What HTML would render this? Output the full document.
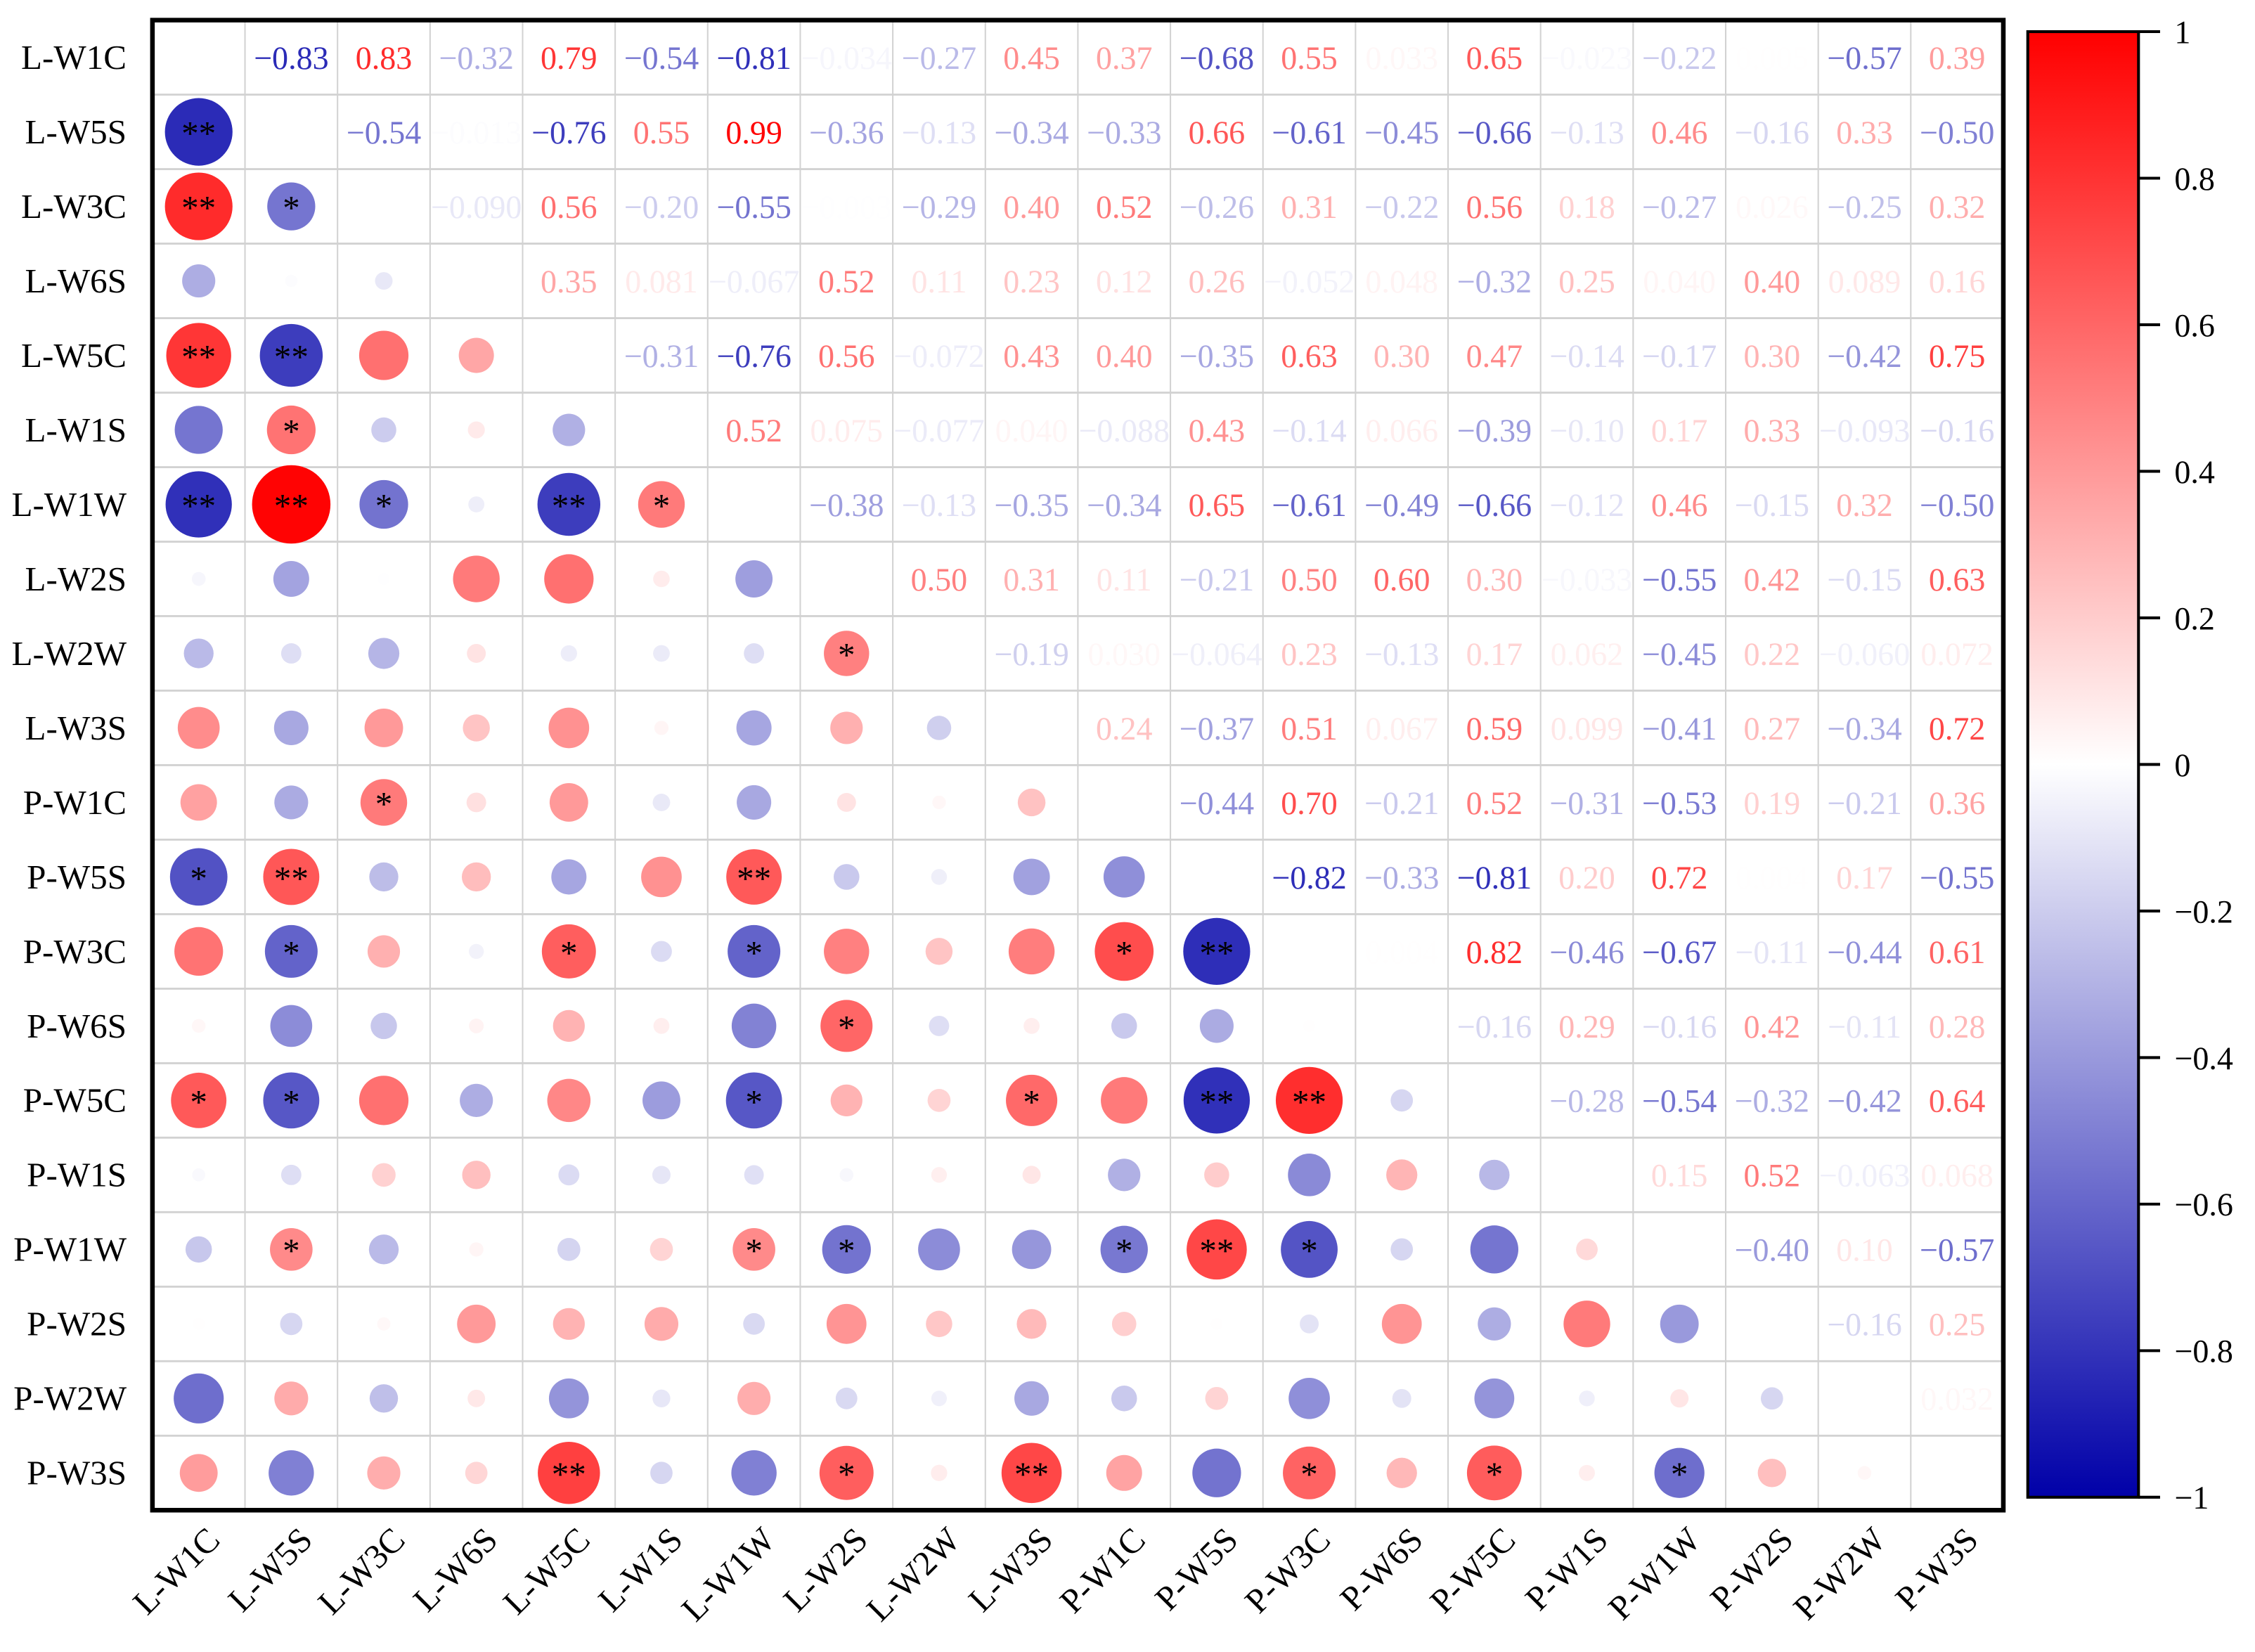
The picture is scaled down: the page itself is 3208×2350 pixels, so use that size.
<!DOCTYPE html>
<html><head><meta charset="utf-8"><style>
html,body{margin:0;padding:0;background:#fff;}
svg{display:block;}
text{font-family:"Liberation Serif",serif;}
</style></head><body>
<svg id="chart" width="3208" height="2350" viewBox="0 0 1568 1148.6" preserveAspectRatio="none" xmlns="http://www.w3.org/2000/svg">
<defs>
<linearGradient id="cbg" x1="0" y1="0" x2="0" y2="1">
<stop offset="0" stop-color="#ff0000"/>
<stop offset="0.5" stop-color="#ffffff"/>
<stop offset="1" stop-color="#0000a8"/>
</linearGradient>
</defs>
<g id="grid"></g>
<g id="marks"></g>
<g id="labels"></g>
<rect x="106" y="14" width="1287" height="1036" fill="none" stroke="#000" stroke-width="3.2"/>
<g id="cbar">
<rect x="1410" y="22" width="77" height="1019" fill="url(#cbg)" stroke="#000" stroke-width="2"/>
</g>
</svg>
<script>
const labels = ["L-W1C","L-W5S","L-W3C","L-W6S","L-W5C","L-W1S","L-W1W","L-W2S","L-W2W","L-W3S","P-W1C","P-W5S","P-W3C","P-W6S","P-W5C","P-W1S","P-W1W","P-W2S","P-W2W","P-W3S"];
// upper triangle rows: row i holds values for columns i+1..19
const upper = [
 [-0.83,0.83,-0.32,0.79,-0.54,-0.81,-0.034,-0.27,0.45,0.37,-0.68,0.55,0.033,0.65,-0.023,-0.22,0.005,-0.57,0.39],
 [-0.54,-0.013,-0.76,0.55,0.99,-0.36,-0.13,-0.34,-0.33,0.66,-0.61,-0.45,-0.66,-0.13,0.46,-0.16,0.33,-0.50],
 [-0.090,0.56,-0.20,-0.55,-0.003,-0.29,0.40,0.52,-0.26,0.31,-0.22,0.56,0.18,-0.27,0.026,-0.25,0.32],
 [0.35,0.081,-0.067,0.52,0.11,0.23,0.12,0.26,-0.052,0.048,-0.32,0.25,0.040,0.40,0.089,0.16],
 [-0.31,-0.76,0.56,-0.072,0.43,0.40,-0.35,0.63,0.30,0.47,-0.14,-0.17,0.30,-0.42,0.75],
 [0.52,0.075,-0.077,0.040,-0.088,0.43,-0.14,0.066,-0.39,-0.10,0.17,0.33,-0.093,-0.16],
 [-0.38,-0.13,-0.35,-0.34,0.65,-0.61,-0.49,-0.66,-0.12,0.46,-0.15,0.32,-0.50],
 [0.50,0.31,0.11,-0.21,0.50,0.60,0.30,-0.033,-0.55,0.42,-0.15,0.63],
 [-0.19,0.030,-0.064,0.23,-0.13,0.17,0.062,-0.45,0.22,-0.060,0.072],
 [0.24,-0.37,0.51,0.067,0.59,0.099,-0.41,0.27,-0.34,0.72],
 [-0.44,0.70,-0.21,0.52,-0.31,-0.53,0.19,-0.21,0.36],
 [-0.82,-0.33,-0.81,0.20,0.72,0.004,0.17,-0.55],
 [0.004,0.82,-0.46,-0.67,-0.11,-0.44,0.61],
 [-0.16,0.29,-0.16,0.42,-0.11,0.28],
 [-0.28,-0.54,-0.32,-0.42,0.64],
 [0.15,0.52,-0.063,0.068],
 [-0.40,0.10,-0.57],
 [-0.16,0.25],
 [0.032]
];
// significance marks in lower triangle: [row, col, mark]
const sigRows = [1,2,4,6,11,14, 2,4,5,6,11,12,14,16, 6,10, 6,12,19, 6, 11,12,14,16, 8,13,16,19, 14,19, 12,16, 12,14,16, 14,16,19, 19, 19];
const sigCols = [0,0,0,0,0,0, 1,1,1,1,1,1,1,1, 2,2, 4,4,4, 5, 6,6,6,6, 7,7,7,7, 9,9, 10,10, 11,11,11, 12,12,12, 14, 16];
const sigMarks = ["**","**","**","**","*","*", "*","**","*","**","**","*","*","*", "*","*", "**","*","**", "*", "**","*","*","*", "*","*","*","*", "*","**", "*","*", "**","**","**", "**","*","*", "*", "*"];
const cbTicks = [1,0.8,0.6,0.4,0.2,0,-0.2,-0.4,-0.6,-0.8,-1];

const NS="http://www.w3.org/2000/svg";
const X0=106,Y0=14,W=1287,H=1036,N=labels.length;
const cw=W/N, ch=H/N;
const xc=j=>X0+cw*(j+0.5);
const yc=i=>Y0+ch*(i+0.5);
const rad=v=>4+23.5*Math.abs(v);
function color(v){
  v=Math.max(-1,Math.min(1,v));
  if(v>=0){const g=Math.round(255*(1-v));return `rgb(255,${g},${g})`;}
  const a=-v;const rg=Math.round(255*(1-a));const b=Math.round(255-a*87);return `rgb(${rg},${rg},${b})`;
}
function fmt(v){
  const a=Math.abs(v);
  let s=a>=0.1?a.toFixed(2):a.toFixed(3);
  return (v<0?"\u2212":"")+s;
}
function mk(tag,attrs,parent){const e=document.createElementNS(NS,tag);for(const k in attrs)e.setAttribute(k,attrs[k]);parent.appendChild(e);return e;}

const M=[];for(let i=0;i<N;i++){M.push(new Array(N).fill(null));}
upper.forEach((row,i)=>row.forEach((v,k)=>{const j=i+1+k;M[i][j]=v;M[j][i]=v;}));

const grid=document.getElementById('grid');
for(let k=1;k<N;k++){
  const l=mk('line',{x1:X0+cw*k,y1:Y0,x2:X0+cw*k,y2:Y0+H,stroke:'#d2d2d2','stroke-width':1},grid);
  
  
  const h=mk('line',{x1:X0,y1:Y0+ch*k,x2:X0+W,y2:Y0+ch*k,stroke:'#d2d2d2','stroke-width':1.4},grid);
  
  
}
const marks=document.getElementById('marks');
for(let i=0;i<N;i++)for(let j=0;j<N;j++){
  const v=M[i][j]; if(v===null)continue;
  if(j>i){
    const t=mk('text',{x:xc(j),y:yc(i)+8,'text-anchor':'middle','font-size':22.5,fill:color(v)},marks);
    t.textContent=fmt(v);
    
    
  } else {
    const c=mk('circle',{cx:xc(j),cy:yc(i),r:rad(v),fill:color(v)},marks);
    
    
  }
}
sigMarks.forEach((m,k)=>{
  const t=mk('text',{x:xc(sigCols[k]),y:yc(sigRows[k])+9,'text-anchor':'middle','font-size':24,fill:'#000'},marks);
  t.textContent=m;
  
  
});
const lab=document.getElementById('labels');
labels.forEach((s,i)=>{
  const t=mk('text',{x:88,y:yc(i)+8,'text-anchor':'end','font-size':24,fill:'#000'},lab);
  t.textContent=s;
  
  
  const x=xc(i)+16,y=1072;
  const u=mk('text',{x:x,y:y,'text-anchor':'end','font-size':24,fill:'#000',transform:`rotate(-45 ${x} ${y})`},lab);
  u.textContent=s;
  
  
});
const cb=document.getElementById('cbar');
const CB0=22,CB1=1041;
const cby=v=>CB0+(1-v)/2*(CB1-CB0);
cbTicks.forEach(v=>{
  const l=mk('line',{x1:1487,y1:cby(v),x2:1502,y2:cby(v),stroke:'#000','stroke-width':2},cb);
  
  
  const t=mk('text',{x:1512,y:cby(v)+8,'font-size':22.5,fill:'#000'},cb);
  t.textContent=(v<0?"\u2212":"")+String(Math.abs(v));
  
  
});
</script>
</body></html>
